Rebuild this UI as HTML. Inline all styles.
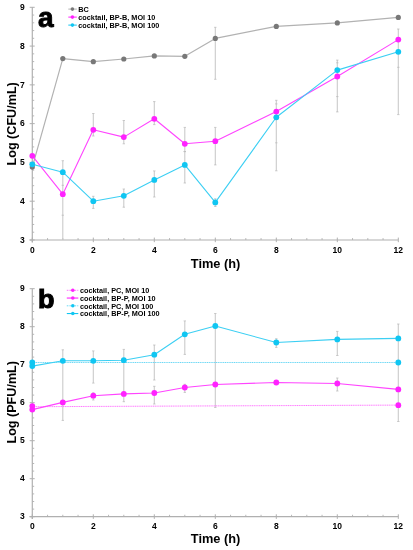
<!DOCTYPE html>
<html><head><meta charset="utf-8"><style>
html,body{margin:0;padding:0;background:#fff;}
svg{display:block;filter:blur(0.3px);font-family:"Liberation Sans",sans-serif;font-weight:bold;}
</style></head><body>
<svg width="413" height="550" viewBox="0 0 413 550">
<rect width="413" height="550" fill="#fff"/>
<line x1="32.30" y1="7.30" x2="32.30" y2="242.38" stroke="#b0b0b0" stroke-width="1.2" />
<line x1="29.50" y1="239.98" x2="398.30" y2="239.98" stroke="#b0b0b0" stroke-width="1.2" />
<line x1="29.70" y1="239.98" x2="34.70" y2="239.98" stroke="#b0b0b0" stroke-width="1" />
<text x="24.70" y="242.78" font-size="8.5" text-anchor="end" >3</text>
<line x1="29.70" y1="201.20" x2="34.70" y2="201.20" stroke="#b0b0b0" stroke-width="1" />
<text x="24.70" y="204.00" font-size="8.5" text-anchor="end" >4</text>
<line x1="29.70" y1="162.42" x2="34.70" y2="162.42" stroke="#b0b0b0" stroke-width="1" />
<text x="24.70" y="165.22" font-size="8.5" text-anchor="end" >5</text>
<line x1="29.70" y1="123.64" x2="34.70" y2="123.64" stroke="#b0b0b0" stroke-width="1" />
<text x="24.70" y="126.44" font-size="8.5" text-anchor="end" >6</text>
<line x1="29.70" y1="84.86" x2="34.70" y2="84.86" stroke="#b0b0b0" stroke-width="1" />
<text x="24.70" y="87.66" font-size="8.5" text-anchor="end" >7</text>
<line x1="29.70" y1="46.08" x2="34.70" y2="46.08" stroke="#b0b0b0" stroke-width="1" />
<text x="24.70" y="48.88" font-size="8.5" text-anchor="end" >8</text>
<line x1="29.70" y1="7.30" x2="34.70" y2="7.30" stroke="#b0b0b0" stroke-width="1" />
<text x="24.70" y="10.10" font-size="8.5" text-anchor="end" >9</text>
<line x1="32.30" y1="232.22" x2="34.20" y2="232.22" stroke="#b0b0b0" stroke-width="0.9" />
<line x1="32.30" y1="224.47" x2="34.20" y2="224.47" stroke="#b0b0b0" stroke-width="0.9" />
<line x1="32.30" y1="216.71" x2="34.20" y2="216.71" stroke="#b0b0b0" stroke-width="0.9" />
<line x1="32.30" y1="208.96" x2="34.20" y2="208.96" stroke="#b0b0b0" stroke-width="0.9" />
<line x1="32.30" y1="193.44" x2="34.20" y2="193.44" stroke="#b0b0b0" stroke-width="0.9" />
<line x1="32.30" y1="185.69" x2="34.20" y2="185.69" stroke="#b0b0b0" stroke-width="0.9" />
<line x1="32.30" y1="177.93" x2="34.20" y2="177.93" stroke="#b0b0b0" stroke-width="0.9" />
<line x1="32.30" y1="170.18" x2="34.20" y2="170.18" stroke="#b0b0b0" stroke-width="0.9" />
<line x1="32.30" y1="154.66" x2="34.20" y2="154.66" stroke="#b0b0b0" stroke-width="0.9" />
<line x1="32.30" y1="146.91" x2="34.20" y2="146.91" stroke="#b0b0b0" stroke-width="0.9" />
<line x1="32.30" y1="139.15" x2="34.20" y2="139.15" stroke="#b0b0b0" stroke-width="0.9" />
<line x1="32.30" y1="131.40" x2="34.20" y2="131.40" stroke="#b0b0b0" stroke-width="0.9" />
<line x1="32.30" y1="115.88" x2="34.20" y2="115.88" stroke="#b0b0b0" stroke-width="0.9" />
<line x1="32.30" y1="108.13" x2="34.20" y2="108.13" stroke="#b0b0b0" stroke-width="0.9" />
<line x1="32.30" y1="100.37" x2="34.20" y2="100.37" stroke="#b0b0b0" stroke-width="0.9" />
<line x1="32.30" y1="92.62" x2="34.20" y2="92.62" stroke="#b0b0b0" stroke-width="0.9" />
<line x1="32.30" y1="77.10" x2="34.20" y2="77.10" stroke="#b0b0b0" stroke-width="0.9" />
<line x1="32.30" y1="69.35" x2="34.20" y2="69.35" stroke="#b0b0b0" stroke-width="0.9" />
<line x1="32.30" y1="61.59" x2="34.20" y2="61.59" stroke="#b0b0b0" stroke-width="0.9" />
<line x1="32.30" y1="53.84" x2="34.20" y2="53.84" stroke="#b0b0b0" stroke-width="0.9" />
<line x1="32.30" y1="38.32" x2="34.20" y2="38.32" stroke="#b0b0b0" stroke-width="0.9" />
<line x1="32.30" y1="30.57" x2="34.20" y2="30.57" stroke="#b0b0b0" stroke-width="0.9" />
<line x1="32.30" y1="22.81" x2="34.20" y2="22.81" stroke="#b0b0b0" stroke-width="0.9" />
<line x1="32.30" y1="15.06" x2="34.20" y2="15.06" stroke="#b0b0b0" stroke-width="0.9" />
<line x1="32.30" y1="237.58" x2="32.30" y2="242.18" stroke="#b0b0b0" stroke-width="1" />
<text x="32.30" y="252.58" font-size="8.5" text-anchor="middle" >0</text>
<line x1="93.30" y1="237.58" x2="93.30" y2="242.18" stroke="#b0b0b0" stroke-width="1" />
<text x="93.30" y="252.58" font-size="8.5" text-anchor="middle" >2</text>
<line x1="154.30" y1="237.58" x2="154.30" y2="242.18" stroke="#b0b0b0" stroke-width="1" />
<text x="154.30" y="252.58" font-size="8.5" text-anchor="middle" >4</text>
<line x1="215.30" y1="237.58" x2="215.30" y2="242.18" stroke="#b0b0b0" stroke-width="1" />
<text x="215.30" y="252.58" font-size="8.5" text-anchor="middle" >6</text>
<line x1="276.30" y1="237.58" x2="276.30" y2="242.18" stroke="#b0b0b0" stroke-width="1" />
<text x="276.30" y="252.58" font-size="8.5" text-anchor="middle" >8</text>
<line x1="337.30" y1="237.58" x2="337.30" y2="242.18" stroke="#b0b0b0" stroke-width="1" />
<text x="337.30" y="252.58" font-size="8.5" text-anchor="middle" >10</text>
<line x1="398.30" y1="237.58" x2="398.30" y2="242.18" stroke="#b0b0b0" stroke-width="1" />
<text x="398.30" y="252.58" font-size="8.5" text-anchor="middle" >12</text>
<line x1="47.55" y1="239.98" x2="47.55" y2="238.08" stroke="#b0b0b0" stroke-width="0.9" />
<line x1="62.80" y1="239.98" x2="62.80" y2="238.08" stroke="#b0b0b0" stroke-width="0.9" />
<line x1="78.05" y1="239.98" x2="78.05" y2="238.08" stroke="#b0b0b0" stroke-width="0.9" />
<line x1="108.55" y1="239.98" x2="108.55" y2="238.08" stroke="#b0b0b0" stroke-width="0.9" />
<line x1="123.80" y1="239.98" x2="123.80" y2="238.08" stroke="#b0b0b0" stroke-width="0.9" />
<line x1="139.05" y1="239.98" x2="139.05" y2="238.08" stroke="#b0b0b0" stroke-width="0.9" />
<line x1="169.55" y1="239.98" x2="169.55" y2="238.08" stroke="#b0b0b0" stroke-width="0.9" />
<line x1="184.80" y1="239.98" x2="184.80" y2="238.08" stroke="#b0b0b0" stroke-width="0.9" />
<line x1="200.05" y1="239.98" x2="200.05" y2="238.08" stroke="#b0b0b0" stroke-width="0.9" />
<line x1="230.55" y1="239.98" x2="230.55" y2="238.08" stroke="#b0b0b0" stroke-width="0.9" />
<line x1="245.80" y1="239.98" x2="245.80" y2="238.08" stroke="#b0b0b0" stroke-width="0.9" />
<line x1="261.05" y1="239.98" x2="261.05" y2="238.08" stroke="#b0b0b0" stroke-width="0.9" />
<line x1="291.55" y1="239.98" x2="291.55" y2="238.08" stroke="#b0b0b0" stroke-width="0.9" />
<line x1="306.80" y1="239.98" x2="306.80" y2="238.08" stroke="#b0b0b0" stroke-width="0.9" />
<line x1="322.05" y1="239.98" x2="322.05" y2="238.08" stroke="#b0b0b0" stroke-width="0.9" />
<line x1="352.55" y1="239.98" x2="352.55" y2="238.08" stroke="#b0b0b0" stroke-width="0.9" />
<line x1="367.80" y1="239.98" x2="367.80" y2="238.08" stroke="#b0b0b0" stroke-width="0.9" />
<line x1="383.05" y1="239.98" x2="383.05" y2="238.08" stroke="#b0b0b0" stroke-width="0.9" />
<line x1="62.80" y1="160.70" x2="62.80" y2="240.00" stroke="#cacaca" stroke-width="1.1" />
<line x1="61.60" y1="160.70" x2="64.00" y2="160.70" stroke="#b8b8b8" stroke-width="0.7" />
<line x1="61.60" y1="185.30" x2="64.00" y2="185.30" stroke="#b8b8b8" stroke-width="0.7" />
<line x1="61.60" y1="215.20" x2="64.00" y2="215.20" stroke="#b8b8b8" stroke-width="0.7" />
<line x1="93.30" y1="113.50" x2="93.30" y2="136.00" stroke="#cacaca" stroke-width="1.1" />
<line x1="92.10" y1="113.50" x2="94.50" y2="113.50" stroke="#b8b8b8" stroke-width="0.7" />
<line x1="92.10" y1="136.00" x2="94.50" y2="136.00" stroke="#b8b8b8" stroke-width="0.7" />
<line x1="93.30" y1="196.30" x2="93.30" y2="208.40" stroke="#cacaca" stroke-width="1.1" />
<line x1="92.10" y1="196.30" x2="94.50" y2="196.30" stroke="#b8b8b8" stroke-width="0.7" />
<line x1="92.10" y1="208.40" x2="94.50" y2="208.40" stroke="#b8b8b8" stroke-width="0.7" />
<line x1="123.80" y1="120.50" x2="123.80" y2="143.80" stroke="#cacaca" stroke-width="1.1" />
<line x1="122.60" y1="120.50" x2="125.00" y2="120.50" stroke="#b8b8b8" stroke-width="0.7" />
<line x1="122.60" y1="143.80" x2="125.00" y2="143.80" stroke="#b8b8b8" stroke-width="0.7" />
<line x1="123.80" y1="189.00" x2="123.80" y2="207.20" stroke="#cacaca" stroke-width="1.1" />
<line x1="122.60" y1="189.00" x2="125.00" y2="189.00" stroke="#b8b8b8" stroke-width="0.7" />
<line x1="122.60" y1="207.20" x2="125.00" y2="207.20" stroke="#b8b8b8" stroke-width="0.7" />
<line x1="154.30" y1="101.60" x2="154.30" y2="124.60" stroke="#cacaca" stroke-width="1.1" />
<line x1="153.10" y1="101.60" x2="155.50" y2="101.60" stroke="#b8b8b8" stroke-width="0.7" />
<line x1="153.10" y1="124.60" x2="155.50" y2="124.60" stroke="#b8b8b8" stroke-width="0.7" />
<line x1="154.30" y1="170.90" x2="154.30" y2="197.00" stroke="#cacaca" stroke-width="1.1" />
<line x1="153.10" y1="170.90" x2="155.50" y2="170.90" stroke="#b8b8b8" stroke-width="0.7" />
<line x1="153.10" y1="197.00" x2="155.50" y2="197.00" stroke="#b8b8b8" stroke-width="0.7" />
<line x1="184.80" y1="127.40" x2="184.80" y2="151.60" stroke="#cacaca" stroke-width="1.1" />
<line x1="183.60" y1="127.40" x2="186.00" y2="127.40" stroke="#b8b8b8" stroke-width="0.7" />
<line x1="183.60" y1="151.60" x2="186.00" y2="151.60" stroke="#b8b8b8" stroke-width="0.7" />
<line x1="184.80" y1="151.60" x2="184.80" y2="183.00" stroke="#cacaca" stroke-width="1.1" />
<line x1="183.60" y1="151.60" x2="186.00" y2="151.60" stroke="#b8b8b8" stroke-width="0.7" />
<line x1="183.60" y1="183.00" x2="186.00" y2="183.00" stroke="#b8b8b8" stroke-width="0.7" />
<line x1="215.30" y1="27.30" x2="215.30" y2="79.30" stroke="#cacaca" stroke-width="1.1" />
<line x1="214.10" y1="27.30" x2="216.50" y2="27.30" stroke="#b8b8b8" stroke-width="0.7" />
<line x1="214.10" y1="79.30" x2="216.50" y2="79.30" stroke="#b8b8b8" stroke-width="0.7" />
<line x1="215.30" y1="127.40" x2="215.30" y2="164.90" stroke="#cacaca" stroke-width="1.1" />
<line x1="214.10" y1="127.40" x2="216.50" y2="127.40" stroke="#b8b8b8" stroke-width="0.7" />
<line x1="214.10" y1="164.90" x2="216.50" y2="164.90" stroke="#b8b8b8" stroke-width="0.7" />
<line x1="215.30" y1="198.80" x2="215.30" y2="206.50" stroke="#cacaca" stroke-width="1.1" />
<line x1="214.10" y1="198.80" x2="216.50" y2="198.80" stroke="#b8b8b8" stroke-width="0.7" />
<line x1="214.10" y1="206.50" x2="216.50" y2="206.50" stroke="#b8b8b8" stroke-width="0.7" />
<line x1="276.30" y1="100.30" x2="276.30" y2="170.80" stroke="#cacaca" stroke-width="1.1" />
<line x1="275.10" y1="100.30" x2="277.50" y2="100.30" stroke="#b8b8b8" stroke-width="0.7" />
<line x1="275.10" y1="103.90" x2="277.50" y2="103.90" stroke="#b8b8b8" stroke-width="0.7" />
<line x1="275.10" y1="142.80" x2="277.50" y2="142.80" stroke="#b8b8b8" stroke-width="0.7" />
<line x1="275.10" y1="170.80" x2="277.50" y2="170.80" stroke="#b8b8b8" stroke-width="0.7" />
<line x1="337.30" y1="60.10" x2="337.30" y2="111.90" stroke="#cacaca" stroke-width="1.1" />
<line x1="336.10" y1="60.10" x2="338.50" y2="60.10" stroke="#b8b8b8" stroke-width="0.7" />
<line x1="336.10" y1="62.80" x2="338.50" y2="62.80" stroke="#b8b8b8" stroke-width="0.7" />
<line x1="336.10" y1="96.60" x2="338.50" y2="96.60" stroke="#b8b8b8" stroke-width="0.7" />
<line x1="336.10" y1="111.90" x2="338.50" y2="111.90" stroke="#b8b8b8" stroke-width="0.7" />
<line x1="398.30" y1="29.00" x2="398.30" y2="114.60" stroke="#cacaca" stroke-width="1.1" />
<line x1="397.10" y1="29.00" x2="399.50" y2="29.00" stroke="#b8b8b8" stroke-width="0.7" />
<line x1="397.10" y1="67.30" x2="399.50" y2="67.30" stroke="#b8b8b8" stroke-width="0.7" />
<line x1="397.10" y1="114.60" x2="399.50" y2="114.60" stroke="#b8b8b8" stroke-width="0.7" />
<polyline points="32.30,167.10 62.80,58.60 93.30,61.70 123.80,59.00 154.30,55.90 184.80,56.30 215.30,38.40 276.30,26.40 337.30,22.90 398.30,17.40" fill="none" stroke="#b2b2b2" stroke-width="1.2" stroke-linejoin="round" />
<polyline points="32.30,155.80 62.80,194.20 93.30,129.80 123.80,137.10 154.30,118.80 184.80,143.80 215.30,141.20 276.30,111.60 337.30,76.50 398.30,39.60" fill="none" stroke="#ff44ff" stroke-width="1.1" stroke-linejoin="round" />
<polyline points="32.30,164.30 62.80,172.20 93.30,201.20 123.80,195.80 154.30,179.90 184.80,164.90 215.30,202.40 276.30,117.30 337.30,70.10 398.30,51.80" fill="none" stroke="#3ccff3" stroke-width="1.1" stroke-linejoin="round" />
<circle cx="32.30" cy="167.10" r="2.6" fill="#787878"/>
<circle cx="62.80" cy="58.60" r="2.6" fill="#787878"/>
<circle cx="93.30" cy="61.70" r="2.6" fill="#787878"/>
<circle cx="123.80" cy="59.00" r="2.6" fill="#787878"/>
<circle cx="154.30" cy="55.90" r="2.6" fill="#787878"/>
<circle cx="184.80" cy="56.30" r="2.6" fill="#787878"/>
<circle cx="215.30" cy="38.40" r="2.6" fill="#787878"/>
<circle cx="276.30" cy="26.40" r="2.6" fill="#787878"/>
<circle cx="337.30" cy="22.90" r="2.6" fill="#787878"/>
<circle cx="398.30" cy="17.40" r="2.6" fill="#787878"/>
<circle cx="32.30" cy="155.80" r="2.9" fill="#ff22ff"/>
<circle cx="62.80" cy="194.20" r="2.9" fill="#ff22ff"/>
<circle cx="93.30" cy="129.80" r="2.9" fill="#ff22ff"/>
<circle cx="123.80" cy="137.10" r="2.9" fill="#ff22ff"/>
<circle cx="154.30" cy="118.80" r="2.9" fill="#ff22ff"/>
<circle cx="184.80" cy="143.80" r="2.9" fill="#ff22ff"/>
<circle cx="215.30" cy="141.20" r="2.9" fill="#ff22ff"/>
<circle cx="276.30" cy="111.60" r="2.9" fill="#ff22ff"/>
<circle cx="337.30" cy="76.50" r="2.9" fill="#ff22ff"/>
<circle cx="398.30" cy="39.60" r="2.9" fill="#ff22ff"/>
<circle cx="32.30" cy="164.30" r="2.9" fill="#10c6f2"/>
<circle cx="62.80" cy="172.20" r="2.9" fill="#10c6f2"/>
<circle cx="93.30" cy="201.20" r="2.9" fill="#10c6f2"/>
<circle cx="123.80" cy="195.80" r="2.9" fill="#10c6f2"/>
<circle cx="154.30" cy="179.90" r="2.9" fill="#10c6f2"/>
<circle cx="184.80" cy="164.90" r="2.9" fill="#10c6f2"/>
<circle cx="215.30" cy="202.40" r="2.9" fill="#10c6f2"/>
<circle cx="276.30" cy="117.30" r="2.9" fill="#10c6f2"/>
<circle cx="337.30" cy="70.10" r="2.9" fill="#10c6f2"/>
<circle cx="398.30" cy="51.80" r="2.9" fill="#10c6f2"/>
<line x1="68.30" y1="9.10" x2="76.80" y2="9.10" stroke="#b2b2b2" stroke-width="1.0" />
<circle cx="72.40" cy="9.10" r="1.8" fill="#787878"/>
<text font-size="7.8" transform="translate(78.3,11.90) scale(0.935,1)">BC</text>
<line x1="68.30" y1="17.10" x2="76.80" y2="17.10" stroke="#ff22ff" stroke-width="1.0" />
<circle cx="72.40" cy="17.10" r="1.8" fill="#ff22ff"/>
<text font-size="7.8" transform="translate(78.3,19.90) scale(0.935,1)">cocktail, BP-B, MOI 10</text>
<line x1="68.30" y1="25.10" x2="76.80" y2="25.10" stroke="#10c6f2" stroke-width="1.0" />
<circle cx="72.40" cy="25.10" r="1.8" fill="#10c6f2"/>
<text font-size="7.8" transform="translate(78.3,27.90) scale(0.935,1)">cocktail, BP-B, MOI 100</text>
<text x="37.90" y="26.80" font-size="28" text-anchor="start" stroke="#000" stroke-width="0.9">a</text>
<text x="215.60" y="267.50" font-size="12.8" text-anchor="middle" >Time (h)</text>
<text x="0.00" y="0.00" font-size="12.6" text-anchor="middle" transform="translate(16.3,123.85) rotate(-90)">Log (CFU/mL)</text>
<line x1="32.30" y1="288.70" x2="32.30" y2="519.10" stroke="#b0b0b0" stroke-width="1.2" />
<line x1="29.50" y1="516.70" x2="398.30" y2="516.70" stroke="#b0b0b0" stroke-width="1.2" />
<line x1="29.70" y1="516.70" x2="34.70" y2="516.70" stroke="#b0b0b0" stroke-width="1" />
<text x="24.70" y="518.90" font-size="8.5" text-anchor="end" >3</text>
<line x1="29.70" y1="478.70" x2="34.70" y2="478.70" stroke="#b0b0b0" stroke-width="1" />
<text x="24.70" y="480.90" font-size="8.5" text-anchor="end" >4</text>
<line x1="29.70" y1="440.70" x2="34.70" y2="440.70" stroke="#b0b0b0" stroke-width="1" />
<text x="24.70" y="442.90" font-size="8.5" text-anchor="end" >5</text>
<line x1="29.70" y1="402.70" x2="34.70" y2="402.70" stroke="#b0b0b0" stroke-width="1" />
<text x="24.70" y="404.90" font-size="8.5" text-anchor="end" >6</text>
<line x1="29.70" y1="364.70" x2="34.70" y2="364.70" stroke="#b0b0b0" stroke-width="1" />
<text x="24.70" y="366.90" font-size="8.5" text-anchor="end" >7</text>
<line x1="29.70" y1="326.70" x2="34.70" y2="326.70" stroke="#b0b0b0" stroke-width="1" />
<text x="24.70" y="328.90" font-size="8.5" text-anchor="end" >8</text>
<line x1="29.70" y1="288.70" x2="34.70" y2="288.70" stroke="#b0b0b0" stroke-width="1" />
<text x="24.70" y="290.90" font-size="8.5" text-anchor="end" >9</text>
<line x1="32.30" y1="509.10" x2="34.20" y2="509.10" stroke="#b0b0b0" stroke-width="0.9" />
<line x1="32.30" y1="501.50" x2="34.20" y2="501.50" stroke="#b0b0b0" stroke-width="0.9" />
<line x1="32.30" y1="493.90" x2="34.20" y2="493.90" stroke="#b0b0b0" stroke-width="0.9" />
<line x1="32.30" y1="486.30" x2="34.20" y2="486.30" stroke="#b0b0b0" stroke-width="0.9" />
<line x1="32.30" y1="471.10" x2="34.20" y2="471.10" stroke="#b0b0b0" stroke-width="0.9" />
<line x1="32.30" y1="463.50" x2="34.20" y2="463.50" stroke="#b0b0b0" stroke-width="0.9" />
<line x1="32.30" y1="455.90" x2="34.20" y2="455.90" stroke="#b0b0b0" stroke-width="0.9" />
<line x1="32.30" y1="448.30" x2="34.20" y2="448.30" stroke="#b0b0b0" stroke-width="0.9" />
<line x1="32.30" y1="433.10" x2="34.20" y2="433.10" stroke="#b0b0b0" stroke-width="0.9" />
<line x1="32.30" y1="425.50" x2="34.20" y2="425.50" stroke="#b0b0b0" stroke-width="0.9" />
<line x1="32.30" y1="417.90" x2="34.20" y2="417.90" stroke="#b0b0b0" stroke-width="0.9" />
<line x1="32.30" y1="410.30" x2="34.20" y2="410.30" stroke="#b0b0b0" stroke-width="0.9" />
<line x1="32.30" y1="395.10" x2="34.20" y2="395.10" stroke="#b0b0b0" stroke-width="0.9" />
<line x1="32.30" y1="387.50" x2="34.20" y2="387.50" stroke="#b0b0b0" stroke-width="0.9" />
<line x1="32.30" y1="379.90" x2="34.20" y2="379.90" stroke="#b0b0b0" stroke-width="0.9" />
<line x1="32.30" y1="372.30" x2="34.20" y2="372.30" stroke="#b0b0b0" stroke-width="0.9" />
<line x1="32.30" y1="357.10" x2="34.20" y2="357.10" stroke="#b0b0b0" stroke-width="0.9" />
<line x1="32.30" y1="349.50" x2="34.20" y2="349.50" stroke="#b0b0b0" stroke-width="0.9" />
<line x1="32.30" y1="341.90" x2="34.20" y2="341.90" stroke="#b0b0b0" stroke-width="0.9" />
<line x1="32.30" y1="334.30" x2="34.20" y2="334.30" stroke="#b0b0b0" stroke-width="0.9" />
<line x1="32.30" y1="319.10" x2="34.20" y2="319.10" stroke="#b0b0b0" stroke-width="0.9" />
<line x1="32.30" y1="311.50" x2="34.20" y2="311.50" stroke="#b0b0b0" stroke-width="0.9" />
<line x1="32.30" y1="303.90" x2="34.20" y2="303.90" stroke="#b0b0b0" stroke-width="0.9" />
<line x1="32.30" y1="296.30" x2="34.20" y2="296.30" stroke="#b0b0b0" stroke-width="0.9" />
<line x1="32.30" y1="514.30" x2="32.30" y2="518.90" stroke="#b0b0b0" stroke-width="1" />
<text x="32.30" y="529.30" font-size="8.5" text-anchor="middle" >0</text>
<line x1="93.30" y1="514.30" x2="93.30" y2="518.90" stroke="#b0b0b0" stroke-width="1" />
<text x="93.30" y="529.30" font-size="8.5" text-anchor="middle" >2</text>
<line x1="154.30" y1="514.30" x2="154.30" y2="518.90" stroke="#b0b0b0" stroke-width="1" />
<text x="154.30" y="529.30" font-size="8.5" text-anchor="middle" >4</text>
<line x1="215.30" y1="514.30" x2="215.30" y2="518.90" stroke="#b0b0b0" stroke-width="1" />
<text x="215.30" y="529.30" font-size="8.5" text-anchor="middle" >6</text>
<line x1="276.30" y1="514.30" x2="276.30" y2="518.90" stroke="#b0b0b0" stroke-width="1" />
<text x="276.30" y="529.30" font-size="8.5" text-anchor="middle" >8</text>
<line x1="337.30" y1="514.30" x2="337.30" y2="518.90" stroke="#b0b0b0" stroke-width="1" />
<text x="337.30" y="529.30" font-size="8.5" text-anchor="middle" >10</text>
<line x1="398.30" y1="514.30" x2="398.30" y2="518.90" stroke="#b0b0b0" stroke-width="1" />
<text x="398.30" y="529.30" font-size="8.5" text-anchor="middle" >12</text>
<line x1="47.55" y1="516.70" x2="47.55" y2="514.80" stroke="#b0b0b0" stroke-width="0.9" />
<line x1="62.80" y1="516.70" x2="62.80" y2="514.80" stroke="#b0b0b0" stroke-width="0.9" />
<line x1="78.05" y1="516.70" x2="78.05" y2="514.80" stroke="#b0b0b0" stroke-width="0.9" />
<line x1="108.55" y1="516.70" x2="108.55" y2="514.80" stroke="#b0b0b0" stroke-width="0.9" />
<line x1="123.80" y1="516.70" x2="123.80" y2="514.80" stroke="#b0b0b0" stroke-width="0.9" />
<line x1="139.05" y1="516.70" x2="139.05" y2="514.80" stroke="#b0b0b0" stroke-width="0.9" />
<line x1="169.55" y1="516.70" x2="169.55" y2="514.80" stroke="#b0b0b0" stroke-width="0.9" />
<line x1="184.80" y1="516.70" x2="184.80" y2="514.80" stroke="#b0b0b0" stroke-width="0.9" />
<line x1="200.05" y1="516.70" x2="200.05" y2="514.80" stroke="#b0b0b0" stroke-width="0.9" />
<line x1="230.55" y1="516.70" x2="230.55" y2="514.80" stroke="#b0b0b0" stroke-width="0.9" />
<line x1="245.80" y1="516.70" x2="245.80" y2="514.80" stroke="#b0b0b0" stroke-width="0.9" />
<line x1="261.05" y1="516.70" x2="261.05" y2="514.80" stroke="#b0b0b0" stroke-width="0.9" />
<line x1="291.55" y1="516.70" x2="291.55" y2="514.80" stroke="#b0b0b0" stroke-width="0.9" />
<line x1="306.80" y1="516.70" x2="306.80" y2="514.80" stroke="#b0b0b0" stroke-width="0.9" />
<line x1="322.05" y1="516.70" x2="322.05" y2="514.80" stroke="#b0b0b0" stroke-width="0.9" />
<line x1="352.55" y1="516.70" x2="352.55" y2="514.80" stroke="#b0b0b0" stroke-width="0.9" />
<line x1="367.80" y1="516.70" x2="367.80" y2="514.80" stroke="#b0b0b0" stroke-width="0.9" />
<line x1="383.05" y1="516.70" x2="383.05" y2="514.80" stroke="#b0b0b0" stroke-width="0.9" />
<line x1="62.80" y1="349.80" x2="62.80" y2="420.40" stroke="#cacaca" stroke-width="1.1" />
<line x1="61.60" y1="349.80" x2="64.00" y2="349.80" stroke="#b8b8b8" stroke-width="0.7" />
<line x1="61.60" y1="420.40" x2="64.00" y2="420.40" stroke="#b8b8b8" stroke-width="0.7" />
<line x1="93.30" y1="350.90" x2="93.30" y2="383.10" stroke="#cacaca" stroke-width="1.1" />
<line x1="92.10" y1="350.90" x2="94.50" y2="350.90" stroke="#b8b8b8" stroke-width="0.7" />
<line x1="92.10" y1="383.10" x2="94.50" y2="383.10" stroke="#b8b8b8" stroke-width="0.7" />
<line x1="93.30" y1="392.80" x2="93.30" y2="400.00" stroke="#cacaca" stroke-width="1.1" />
<line x1="92.10" y1="392.80" x2="94.50" y2="392.80" stroke="#b8b8b8" stroke-width="0.7" />
<line x1="92.10" y1="400.00" x2="94.50" y2="400.00" stroke="#b8b8b8" stroke-width="0.7" />
<line x1="123.80" y1="349.40" x2="123.80" y2="401.70" stroke="#cacaca" stroke-width="1.1" />
<line x1="122.60" y1="349.40" x2="125.00" y2="349.40" stroke="#b8b8b8" stroke-width="0.7" />
<line x1="122.60" y1="401.70" x2="125.00" y2="401.70" stroke="#b8b8b8" stroke-width="0.7" />
<line x1="154.30" y1="345.00" x2="154.30" y2="380.00" stroke="#cacaca" stroke-width="1.1" />
<line x1="153.10" y1="345.00" x2="155.50" y2="345.00" stroke="#b8b8b8" stroke-width="0.7" />
<line x1="153.10" y1="380.00" x2="155.50" y2="380.00" stroke="#b8b8b8" stroke-width="0.7" />
<line x1="154.30" y1="386.30" x2="154.30" y2="404.00" stroke="#cacaca" stroke-width="1.1" />
<line x1="153.10" y1="386.30" x2="155.50" y2="386.30" stroke="#b8b8b8" stroke-width="0.7" />
<line x1="153.10" y1="404.00" x2="155.50" y2="404.00" stroke="#b8b8b8" stroke-width="0.7" />
<line x1="184.80" y1="320.90" x2="184.80" y2="354.40" stroke="#cacaca" stroke-width="1.1" />
<line x1="183.60" y1="320.90" x2="186.00" y2="320.90" stroke="#b8b8b8" stroke-width="0.7" />
<line x1="183.60" y1="354.40" x2="186.00" y2="354.40" stroke="#b8b8b8" stroke-width="0.7" />
<line x1="184.80" y1="384.30" x2="184.80" y2="392.40" stroke="#cacaca" stroke-width="1.1" />
<line x1="183.60" y1="384.30" x2="186.00" y2="384.30" stroke="#b8b8b8" stroke-width="0.7" />
<line x1="183.60" y1="392.40" x2="186.00" y2="392.40" stroke="#b8b8b8" stroke-width="0.7" />
<line x1="215.30" y1="313.50" x2="215.30" y2="407.50" stroke="#cacaca" stroke-width="1.1" />
<line x1="214.10" y1="313.50" x2="216.50" y2="313.50" stroke="#b8b8b8" stroke-width="0.7" />
<line x1="214.10" y1="407.50" x2="216.50" y2="407.50" stroke="#b8b8b8" stroke-width="0.7" />
<line x1="276.30" y1="338.70" x2="276.30" y2="347.40" stroke="#cacaca" stroke-width="1.1" />
<line x1="275.10" y1="338.70" x2="277.50" y2="338.70" stroke="#b8b8b8" stroke-width="0.7" />
<line x1="275.10" y1="347.40" x2="277.50" y2="347.40" stroke="#b8b8b8" stroke-width="0.7" />
<line x1="337.30" y1="331.40" x2="337.30" y2="355.50" stroke="#cacaca" stroke-width="1.1" />
<line x1="336.10" y1="331.40" x2="338.50" y2="331.40" stroke="#b8b8b8" stroke-width="0.7" />
<line x1="336.10" y1="355.50" x2="338.50" y2="355.50" stroke="#b8b8b8" stroke-width="0.7" />
<line x1="337.30" y1="378.00" x2="337.30" y2="391.00" stroke="#cacaca" stroke-width="1.1" />
<line x1="336.10" y1="378.00" x2="338.50" y2="378.00" stroke="#b8b8b8" stroke-width="0.7" />
<line x1="336.10" y1="391.00" x2="338.50" y2="391.00" stroke="#b8b8b8" stroke-width="0.7" />
<line x1="398.30" y1="324.00" x2="398.30" y2="421.50" stroke="#cacaca" stroke-width="1.1" />
<line x1="397.10" y1="324.00" x2="399.50" y2="324.00" stroke="#b8b8b8" stroke-width="0.7" />
<line x1="397.10" y1="421.50" x2="399.50" y2="421.50" stroke="#b8b8b8" stroke-width="0.7" />
<line x1="32.30" y1="362.50" x2="398.30" y2="362.50" stroke="#5cd4f4" stroke-width="0.9" stroke-dasharray="1.2 0.6"/>
<line x1="32.30" y1="406.70" x2="398.30" y2="405.10" stroke="#ff6aff" stroke-width="0.9" stroke-dasharray="1.2 0.6"/>
<polyline points="32.30,409.60 62.80,402.40 93.30,395.70 123.80,393.90 154.30,393.00 184.80,387.50 215.30,384.50 276.30,382.50 337.30,383.50 398.30,389.40" fill="none" stroke="#ff44ff" stroke-width="1.1" stroke-linejoin="round" />
<polyline points="32.30,366.10 62.80,360.80 93.30,360.80 123.80,360.20 154.30,354.70 184.80,334.30 215.30,326.00 276.30,342.50 337.30,339.40 398.30,338.40" fill="none" stroke="#3ccff3" stroke-width="1.1" stroke-linejoin="round" />
<circle cx="32.30" cy="362.40" r="2.9" fill="#10c6f2"/>
<circle cx="398.30" cy="362.50" r="2.9" fill="#10c6f2"/>
<circle cx="32.30" cy="406.10" r="2.9" fill="#ff22ff"/>
<circle cx="398.30" cy="405.20" r="2.9" fill="#ff22ff"/>
<circle cx="32.30" cy="409.60" r="2.9" fill="#ff22ff"/>
<circle cx="62.80" cy="402.40" r="2.9" fill="#ff22ff"/>
<circle cx="93.30" cy="395.70" r="2.9" fill="#ff22ff"/>
<circle cx="123.80" cy="393.90" r="2.9" fill="#ff22ff"/>
<circle cx="154.30" cy="393.00" r="2.9" fill="#ff22ff"/>
<circle cx="184.80" cy="387.50" r="2.9" fill="#ff22ff"/>
<circle cx="215.30" cy="384.50" r="2.9" fill="#ff22ff"/>
<circle cx="276.30" cy="382.50" r="2.9" fill="#ff22ff"/>
<circle cx="337.30" cy="383.50" r="2.9" fill="#ff22ff"/>
<circle cx="398.30" cy="389.40" r="2.9" fill="#ff22ff"/>
<circle cx="32.30" cy="366.10" r="2.9" fill="#10c6f2"/>
<circle cx="62.80" cy="360.80" r="2.9" fill="#10c6f2"/>
<circle cx="93.30" cy="360.80" r="2.9" fill="#10c6f2"/>
<circle cx="123.80" cy="360.20" r="2.9" fill="#10c6f2"/>
<circle cx="154.30" cy="354.70" r="2.9" fill="#10c6f2"/>
<circle cx="184.80" cy="334.30" r="2.9" fill="#10c6f2"/>
<circle cx="215.30" cy="326.00" r="2.9" fill="#10c6f2"/>
<circle cx="276.30" cy="342.50" r="2.9" fill="#10c6f2"/>
<circle cx="337.30" cy="339.40" r="2.9" fill="#10c6f2"/>
<circle cx="398.30" cy="338.40" r="2.9" fill="#10c6f2"/>
<line x1="66.80" y1="290.30" x2="78.30" y2="290.30" stroke="#ff22ff" stroke-width="0.9" stroke-dasharray="1.6 1.0" stroke-opacity="0.7"/>
<circle cx="72.80" cy="290.30" r="1.8" fill="#ff22ff"/>
<text font-size="7.8" transform="translate(80.0,293.10) scale(0.935,1)">cocktail, PC, MOI 10</text>
<line x1="66.80" y1="298.05" x2="78.30" y2="298.05" stroke="#ff22ff" stroke-width="1.1" />
<circle cx="72.80" cy="298.05" r="1.8" fill="#ff22ff"/>
<text font-size="7.8" transform="translate(80.0,300.85) scale(0.935,1)">cocktail, BP-P, MOI 10</text>
<line x1="66.80" y1="305.80" x2="78.30" y2="305.80" stroke="#10c6f2" stroke-width="0.9" stroke-dasharray="1.6 1.0" stroke-opacity="0.7"/>
<circle cx="72.80" cy="305.80" r="1.8" fill="#10c6f2"/>
<text font-size="7.8" transform="translate(80.0,308.60) scale(0.935,1)">cocktail, PC, MOI 100</text>
<line x1="66.80" y1="313.55" x2="78.30" y2="313.55" stroke="#10c6f2" stroke-width="1.1" />
<circle cx="72.80" cy="313.55" r="1.8" fill="#10c6f2"/>
<text font-size="7.8" transform="translate(80.0,316.35) scale(0.935,1)">cocktail, BP-P, MOI 100</text>
<text x="0.00" y="0.00" font-size="25" text-anchor="start" stroke="#000" stroke-width="1.0" transform="translate(38.0,307.6) scale(1.08,1)">b</text>
<text x="215.60" y="542.80" font-size="12.8" text-anchor="middle" >Time (h)</text>
<text x="0.00" y="0.00" font-size="12.6" text-anchor="middle" transform="translate(16.3,402.3) rotate(-90)">Log (PFU/mL)</text>
</svg>
</body></html>
